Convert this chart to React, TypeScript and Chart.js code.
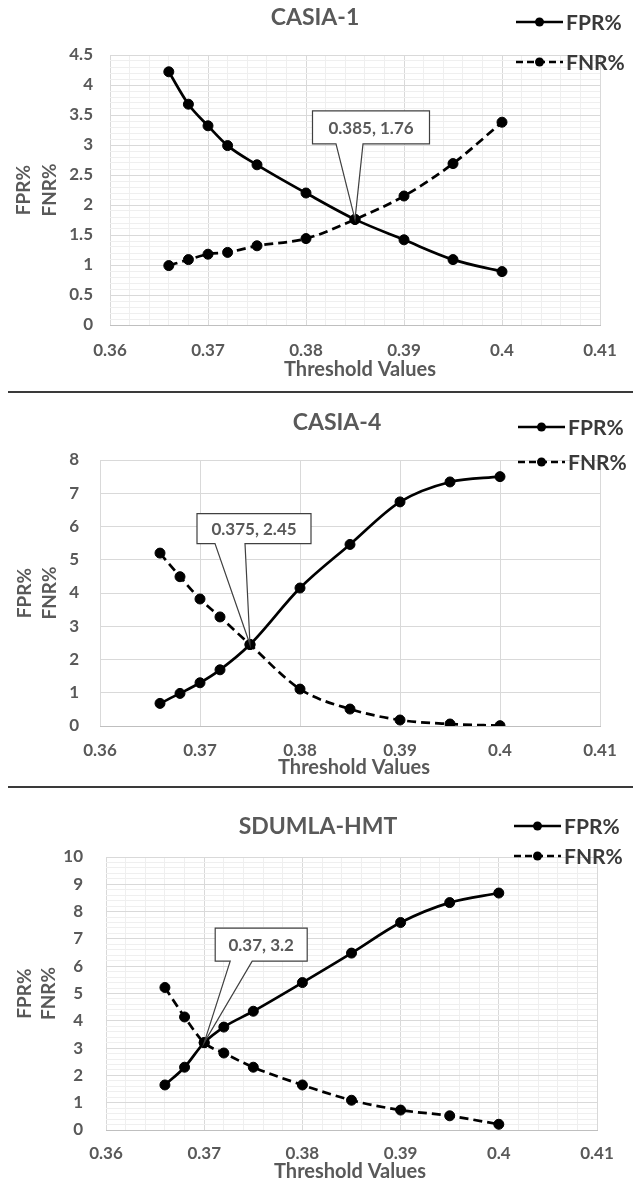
import React, { useEffect, useRef } from "react";
import { Chart, registerables } from "chart.js";

Chart.register(...registerables);

// ---------- data ----------
const thresholds = [0.366, 0.368, 0.37, 0.372, 0.375, 0.38, 0.385, 0.39, 0.395, 0.4];

const casia1FPR = [4.22, 3.68, 3.32, 2.99, 2.67, 2.2, 1.76, 1.42, 1.09, 0.89];
const casia1FNR = [0.99, 1.09, 1.18, 1.21, 1.32, 1.44, 1.76, 2.15, 2.69, 3.38];

const casia4FPR = [0.68, 0.98, 1.3, 1.69, 2.45, 4.15, 5.46, 6.74, 7.34, 7.5];
const casia4FNR = [5.2, 4.49, 3.82, 3.28, 2.45, 1.11, 0.51, 0.18, 0.06, 0.01];

const sdumlaFPR = [1.65, 2.3, 3.2, 3.77, 4.35, 5.4, 6.48, 7.6, 8.33, 8.68];
const sdumlaFNR = [5.22, 4.14, 3.2, 2.82, 2.3, 1.65, 1.09, 0.73, 0.52, 0.21];

const xTickLabels = ["0.36", "0.37", "0.38", "0.39", "0.4", "0.41"];
const casia1YTickLabels = ["0", "0.5", "1", "1.5", "2", "2.5", "3", "3.5", "4", "4.5"];
const casia4YTickLabels = ["0", "1", "2", "3", "4", "5", "6", "7", "8"];
const sdumlaYTickLabels = ["0", "1", "2", "3", "4", "5", "6", "7", "8", "9", "10"];

const seriesNames = ["FPR%", "FNR%"];
const xAxisTitle = "Threshold Values";

// ---------- layout / style ----------
const FONT = "Lato, 'Open Sans', sans-serif";
const GRAY = "#595959";
const W = 633;

const specs = [
  {
    title: "CASIA-1", fpr: casia1FPR, fnr: casia1FNR, yLabels: casia1YTickLabels,
    top: 0, height: 390, plot: { l: 110, r: 600, t: 55, b: 325 },
    xSub: 5, ySub: 5, yPad: 17, xPad: 15, eerIndex: 6,
    box: { dx: 16, dy: -92, w: 117, h: 33, gapL: -35, gapR: -8 },
    titlePos: [315, 18], legend: { x1: 516, x2: 563, y: [22, 62] },
    xTitlePos: [360, 370], yTitleX: [24, 50],
  },
  {
    title: "CASIA-4", fpr: casia4FPR, fnr: casia4FNR, yLabels: casia4YTickLabels,
    top: 394, height: 392, plot: { l: 100, r: 600, t: 460, b: 726 },
    xSub: 0, ySub: 0, yPad: 21, xPad: 14, eerIndex: 4,
    box: { dx: 4, dy: -116, w: 114, h: 30, gapL: -39, gapR: -9 },
    titlePos: [337, 423], legend: { x1: 518, x2: 565, y: [427, 462] },
    xTitlePos: [354, 768], yTitleX: [25, 50],
  },
  {
    title: "SDUMLA-HMT", fpr: sdumlaFPR, fnr: sdumlaFNR, yLabels: sdumlaYTickLabels,
    top: 789, height: 396, plot: { l: 106, r: 597, t: 857, b: 1130 },
    xSub: 5, ySub: 5, yPad: 23, xPad: 13, eerIndex: 2,
    box: { dx: 57, dy: -98, w: 92, h: 33, gapL: -31, gapR: -9 },
    titlePos: [318, 827], legend: { x1: 514, x2: 561, y: [826, 856] },
    xTitlePos: [350, 1172], yTitleX: [25, 49],
  },
];

function buildTicks(labels: string[], sub: number) {
  const out: { value: number; label: string; major: boolean }[] = [];
  const vals = labels.map(Number);
  vals.forEach((v, i) => {
    out.push({ value: v, label: labels[i], major: true });
    if (sub > 1 && i < vals.length - 1) {
      const step = (vals[i + 1] - v) / sub;
      for (let k = 1; k < sub; k++) out.push({ value: v + step * k, label: "", major: false });
    }
  });
  return out;
}

function makeConfig(spec: any) {
  const T = spec.top;
  const xt = buildTicks(xTickLabels, spec.xSub);
  const yt = buildTicks(spec.yLabels, spec.ySub);
  const yLabelsNum = spec.yLabels.map(Number);
  const xLabelsNum = xTickLabels.map(Number);
  const i = spec.eerIndex;
  const eerX = thresholds[i];
  const eerY = spec.fpr[i];

  const deco = {
    id: "deco",
    afterDatasetsDraw(chart: any) {
      const ctx = chart.ctx;
      const px = chart.scales.x.getPixelForValue(eerX);
      const py = chart.scales.y.getPixelForValue(eerY);
      const b = spec.box;
      const cx = px + b.dx, cy = py + b.dy;
      const L = cx - b.w / 2, R = cx + b.w / 2, Tp = cy - b.h / 2, B = cy + b.h / 2;
      ctx.save();
      ctx.setLineDash([]);
      ctx.beginPath();
      ctx.moveTo(L, Tp);
      ctx.lineTo(R, Tp);
      ctx.lineTo(R, B);
      ctx.lineTo(cx + b.gapR, B);
      ctx.lineTo(px, py);
      ctx.lineTo(cx + b.gapL, B);
      ctx.lineTo(L, B);
      ctx.closePath();
      ctx.fillStyle = "#ffffff";
      ctx.fill();
      ctx.strokeStyle = "#404040";
      ctx.lineWidth = 1.2;
      ctx.stroke();
      ctx.fillStyle = GRAY;
      ctx.font = `bold 17px ${FONT}`;
      ctx.textAlign = "center";
      ctx.textBaseline = "middle";
      ctx.fillText(`${eerX}, ${eerY}`, cx, cy + 1);
      ctx.restore();
    },
    afterDraw(chart: any) {
      const ctx = chart.ctx;
      ctx.save();
      ctx.fillStyle = GRAY;
      ctx.font = `bold 23px ${FONT}`;
      ctx.textAlign = "center";
      ctx.textBaseline = "middle";
      ctx.fillText(spec.title, spec.titlePos[0], spec.titlePos[1] - T);
      ctx.font = `bold 20px ${FONT}`;
      ctx.fillText(xAxisTitle, spec.xTitlePos[0], spec.xTitlePos[1] - T);
      const yc = (chart.chartArea.top + chart.chartArea.bottom) / 2;
      ctx.font = `bold 19px ${FONT}`;
      seriesNames.forEach((name, k) => {
        ctx.save();
        ctx.translate(spec.yTitleX[k], yc);
        ctx.rotate(-Math.PI / 2);
        ctx.fillText(name, 0, 0);
        ctx.restore();
      });
      const lg = spec.legend;
      seriesNames.forEach((name, k) => {
        const y = lg.y[k] - T;
        ctx.strokeStyle = "#000";
        ctx.lineWidth = 2.6;
        ctx.setLineDash(k === 1 ? [7, 4] : []);
        ctx.beginPath();
        ctx.moveTo(lg.x1, y);
        ctx.lineTo(lg.x2, y);
        ctx.stroke();
        ctx.setLineDash([]);
        ctx.fillStyle = "#000";
        ctx.beginPath();
        ctx.arc((lg.x1 + lg.x2) / 2, y, 4.5, 0, Math.PI * 2);
        ctx.fill();
        ctx.fillStyle = "#3a3a3a";
        ctx.font = `bold 21px ${FONT}`;
        ctx.textAlign = "left";
        ctx.fillText(name, lg.x2 + 3, y + 1);
      });
      ctx.restore();
    },
  };

  const ds = (vals: number[], dashed: boolean, label: string) => ({
    label,
    data: thresholds.map((x, j) => ({ x, y: vals[j] })),
    borderColor: "#000",
    backgroundColor: "#000",
    pointBackgroundColor: "#000",
    pointBorderColor: "#000",
    borderWidth: 2.7,
    pointRadius: 5,
    pointBorderWidth: 1,
    borderDash: dashed ? [9, 5] : [],
    cubicInterpolationMode: "monotone",
    fill: false,
  });

  return {
    type: "line",
    data: {
      datasets: [ds(spec.fpr, false, seriesNames[0]), ds(spec.fnr, true, seriesNames[1])],
    },
    plugins: [deco],
    options: {
      animation: false,
      responsive: false,
      devicePixelRatio: 1,
      layout: {
        padding: { top: spec.plot.t - T, right: W - spec.plot.r, left: 0, bottom: 0 },
      },
      plugins: { legend: { display: false }, title: { display: false }, tooltip: { enabled: false } },
      scales: {
        x: {
          type: "linear",
          min: xLabelsNum[0],
          max: xLabelsNum[xLabelsNum.length - 1],
          afterBuildTicks: (s: any) => { s.ticks = xt.map((t) => ({ value: t.value })); },
          afterFit: (s: any) => { s.height = spec.height - (spec.plot.b - T); },
          grid: {
            color: (c: any) => (xt[c.index] && xt[c.index].major ? "#d9d9d9" : "#efefef"),
            lineWidth: 1,
            drawTicks: false,
          },
          border: { display: true, color: "#bfbfbf", width: 1 },
          ticks: {
            autoSkip: false,
            maxRotation: 0,
            padding: spec.xPad,
            color: GRAY,
            font: { family: FONT, size: 17, weight: "bold" },
            callback: (_v: any, idx: number) => (xt[idx] ? xt[idx].label : ""),
          },
        },
        y: {
          type: "linear",
          min: yLabelsNum[0],
          max: yLabelsNum[yLabelsNum.length - 1],
          afterBuildTicks: (s: any) => { s.ticks = yt.map((t) => ({ value: t.value })); },
          afterFit: (s: any) => { s.width = spec.plot.l; },
          grid: {
            color: (c: any) => (yt[c.index] && yt[c.index].major ? "#d9d9d9" : "#efefef"),
            lineWidth: 1,
            drawTicks: false,
          },
          border: { display: false },
          ticks: {
            autoSkip: false,
            padding: spec.yPad,
            color: GRAY,
            font: { family: FONT, size: 17, weight: "bold" },
            callback: (_v: any, idx: number) => (yt[idx] ? yt[idx].label : ""),
          },
        },
      },
    },
  };
}

function Panel({ spec }: { spec: any }) {
  const ref = useRef<HTMLCanvasElement | null>(null);
  useEffect(() => {
    if (!ref.current) return;
    const chart = new Chart(ref.current, makeConfig(spec) as any);
    return () => chart.destroy();
  }, [spec]);
  return (
    <div style={{ position: "absolute", left: 0, top: spec.top, width: W, height: spec.height }}>
      <canvas ref={ref} width={W} height={spec.height} style={{ width: W, height: spec.height, display: "block" }} />
    </div>
  );
}

export default function App() {
  return (
    <div style={{ position: "absolute", left: 0, top: 0, width: W, height: 1185, background: "#fff", overflow: "hidden" }}>
      {specs.map((s) => (
        <Panel key={s.title} spec={s} />
      ))}
      <div style={{ position: "absolute", left: 8, top: 391, width: W - 8, height: 2, background: "#3a3a3a" }} />
      <div style={{ position: "absolute", left: 8, top: 786, width: W - 8, height: 2, background: "#3a3a3a" }} />
    </div>
  );
}
